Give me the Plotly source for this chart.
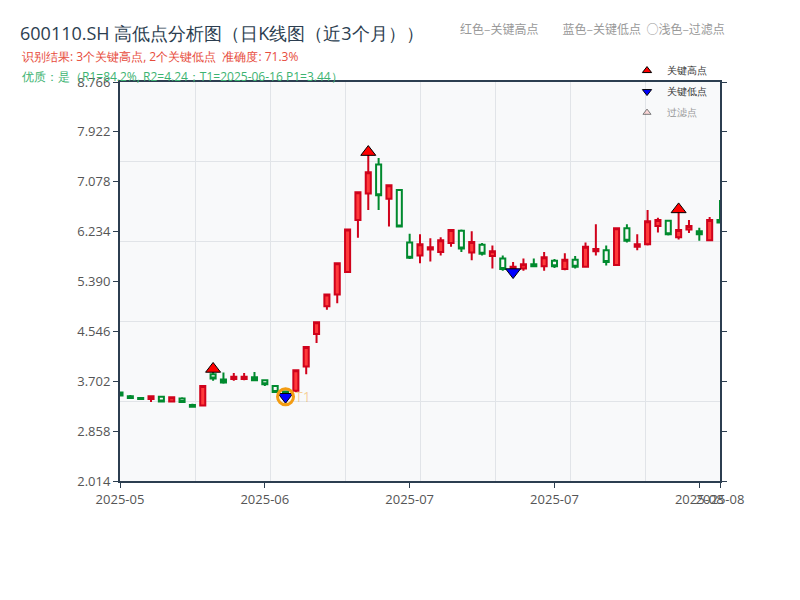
import plotly.graph_objects as go

# 近3个月日K数据
dates = [
    "2025-05-22", "2025-05-23", "2025-05-26", "2025-05-27", "2025-05-28", "2025-05-29", "2025-05-30",
    "2025-06-03", "2025-06-04", "2025-06-05", "2025-06-06", "2025-06-09", "2025-06-10", "2025-06-11",
    "2025-06-12", "2025-06-13", "2025-06-16", "2025-06-17", "2025-06-18", "2025-06-19", "2025-06-20",
    "2025-06-23", "2025-06-24", "2025-06-25", "2025-06-26", "2025-06-27", "2025-06-30", "2025-07-01",
    "2025-07-02", "2025-07-03", "2025-07-04", "2025-07-07", "2025-07-08", "2025-07-09", "2025-07-10",
    "2025-07-11", "2025-07-14", "2025-07-15", "2025-07-16", "2025-07-17", "2025-07-18", "2025-07-21",
    "2025-07-22", "2025-07-23", "2025-07-24", "2025-07-25", "2025-07-28", "2025-07-29", "2025-07-30",
    "2025-07-31", "2025-08-01", "2025-08-04", "2025-08-05", "2025-08-06", "2025-08-07", "2025-08-08",
    "2025-08-11", "2025-08-12", "2025-08-13",
]
open_ = [3.51, 3.45, 3.42, 3.40, 3.44, 3.36, 3.41, 3.30, 3.29, 3.82, 3.73, 3.74, 3.74, 3.77, 3.72,
         3.62, 3.53, 3.54, 3.95, 4.50, 4.97, 5.17, 5.55, 6.43, 6.88, 7.37, 6.79, 6.94, 6.05, 5.83,
         5.93, 5.89, 6.04, 6.25, 5.88, 6.01, 5.82, 5.78, 5.58, 5.61, 5.68, 5.65, 5.74, 5.60, 5.76,
         5.64, 5.90, 5.92, 5.67, 6.29, 5.98, 6.02, 6.33, 6.42, 6.14, 6.27, 6.24, 6.09, 6.43]
high = [3.52, 3.47, 3.43, 3.45, 3.45, 3.43, 3.43, 3.32, 3.62, 3.91, 3.85, 3.84, 3.84, 3.86, 3.73,
        3.64, 3.54, 3.89, 4.28, 4.70, 5.17, 5.70, 6.27, 6.90, 7.58, 7.48, 7.03, 6.94, 6.20, 6.19,
        6.12, 6.14, 6.28, 6.27, 6.24, 6.04, 6.00, 5.83, 5.72, 5.78, 5.78, 5.89, 5.77, 5.87, 5.82,
        6.05, 6.36, 6.00, 6.29, 6.36, 6.19, 6.60, 6.47, 6.43, 6.61, 6.43, 6.30, 6.48, 6.77]
low = [3.45, 3.40, 3.40, 3.35, 3.35, 3.35, 3.34, 3.26, 3.29, 3.71, 3.66, 3.71, 3.72, 3.70, 3.62,
       3.51, 3.44, 3.52, 3.82, 4.35, 4.91, 5.02, 5.55, 6.13, 6.60, 6.60, 6.32, 6.32, 5.77, 5.70,
       5.73, 5.83, 5.98, 5.89, 5.75, 5.83, 5.61, 5.57, 5.55, 5.57, 5.63, 5.57, 5.62, 5.58, 5.61,
       5.63, 5.83, 5.66, 5.66, 6.05, 5.92, 6.00, 6.22, 6.17, 6.10, 6.21, 6.08, 6.08, 6.38]
close = [3.46, 3.42, 3.40, 3.45, 3.36, 3.43, 3.35, 3.27, 3.62, 3.75, 3.68, 3.78, 3.78, 3.72, 3.65,
         3.52, 3.48, 3.89, 4.28, 4.70, 5.17, 5.70, 6.27, 6.90, 7.24, 6.85, 7.02, 6.32, 5.79, 6.02,
         5.97, 6.09, 6.26, 5.95, 6.06, 5.86, 5.90, 5.60, 5.64, 5.68, 5.65, 5.80, 5.65, 5.76, 5.64,
         5.98, 5.94, 5.72, 6.29, 6.08, 6.02, 6.41, 6.43, 6.19, 6.26, 6.33, 6.19, 6.43, 6.39]

# 关键高低点（K线序号, 价格）
key_high_idx = [9, 24, 54]
key_high_price = [3.91, 7.58, 6.61]
key_low_idx = [16, 38]
key_low_price = [3.44, 5.55]
t1_idx = 16
t1_price = 3.44

# 坐标轴刻度
tick_idx = [0, 14, 28, 42, 56, 58]
tick_text = ["2025-05", "2025-06", "2025-07", "2025-07", "2025-08", "2025-08"]
y_ticks = [2.014, 2.858, 3.702, 4.546, 5.390, 6.234, 7.078, 7.922, 8.766]
x_grid = [7.25, 14.5, 21.75, 29.0, 36.25, 43.5, 50.75]
y_grid = [3.364, 4.715, 6.065, 7.416]

x = list(range(len(dates)))

fig = go.Figure()

fig.add_trace(go.Candlestick(
    x=x, open=open_, high=high, low=low, close=close,
    text=dates,
    increasing=dict(line=dict(color="#d0021b", width=2), fillcolor="#ff3b3b"),
    decreasing=dict(line=dict(color="#008a2e", width=2), fillcolor="rgba(0,0,0,0)"),
    showlegend=False,
    name="K线",
))

# 图上的关键点
fig.add_trace(go.Scatter(
    x=key_high_idx, y=key_high_price, mode="markers", name="关键高点", legendgroup="h", showlegend=False,
    marker=dict(symbol="triangle-up", size=13, color="red", line=dict(color="black", width=1)),
))
fig.add_trace(go.Scatter(
    x=key_low_idx, y=key_low_price, mode="markers", name="关键低点", legendgroup="l", showlegend=False,
    marker=dict(symbol="triangle-down", size=13, color="blue", line=dict(color="black", width=1)),
))
fig.add_trace(go.Scatter(
    x=[t1_idx], y=[t1_price], mode="markers", showlegend=False,
    marker=dict(symbol="circle-open", size=16, color="#f39c12", line=dict(width=3)),
))

# 图例条目（小号符号）
fig.add_trace(go.Scatter(
    x=[None], y=[None], mode="markers", name="关键高点", legendgroup="h",
    marker=dict(symbol="triangle-up", size=8, color="red", line=dict(color="black", width=1)),
))
fig.add_trace(go.Scatter(
    x=[None], y=[None], mode="markers", name="关键低点", legendgroup="l",
    marker=dict(symbol="triangle-down", size=8, color="blue", line=dict(color="black", width=1)),
))
fig.add_trace(go.Scatter(
    x=[None], y=[None], mode="markers", name="过滤点", visible="legendonly", legendgroup="f",
    marker=dict(symbol="triangle-up", size=7, color="#ffb3b3", line=dict(color="black", width=1)),
))

fig.add_annotation(x=t1_idx, y=t1_price, text="T1", showarrow=False, xanchor="left", xshift=7,
                   font=dict(size=14, color="rgba(243,156,18,0.45)"))

fig.add_annotation(xref="paper", yref="paper", x=-0.1667, y=1.0627, xanchor="left", yanchor="middle",
                   text="识别结果: 3个关键高点, 2个关键低点  准确度: 71.3%", showarrow=False,
                   font=dict(size=12, color="#e74c3c"))
fig.add_annotation(xref="paper", yref="paper", x=-0.1667, y=1.015, xanchor="left", yanchor="middle",
                   text="优质：是（R1=84.2%, R2=4.24；T1=2025-06-16 P1=3.44）", showarrow=False,
                   font=dict(size=12, color="#3cb371"))
fig.add_annotation(xref="paper", yref="paper", x=1.012, y=1.135, xanchor="right", yanchor="middle",
                   text="红色–关键高点         蓝色–关键低点  ○浅色–过滤点", showarrow=False,
                   font=dict(size=12, color="#999999", family="Noto Sans CJK SC"))

fig.update_layout(
    width=800, height=600,
    title=dict(text="600110.SH 高低点分析图（日K线图（近3个月））", x=0.015, xanchor="left",
               y=0.958, yanchor="middle", font=dict(size=18, color="#2c3e50")),
    margin=dict(l=112, r=88, t=74, b=127),
    plot_bgcolor="#f8f9fa", paper_bgcolor="white",
    legend=dict(x=0.845, y=1.065, xanchor="left", yanchor="top", bgcolor="rgba(0,0,0,0)",
                tracegroupgap=2, font=dict(size=10, color="#333")),
)
fig.update_xaxes(
    range=[0, 58], tickmode="array", tickvals=tick_idx, ticktext=tick_text, tickangle=0,
    showgrid=False, showline=True, linecolor="#2c3e50", linewidth=2, mirror=True,
    ticks="outside", ticklen=5, tickcolor="#2c3e50", tickfont=dict(size=13, color="#555"),
    rangeslider=dict(visible=False), zeroline=False,
    minor=dict(tickmode="array", tickvals=x_grid, showgrid=True, gridcolor="#e1e4e8", ticks=""),
)
fig.update_yaxes(
    range=[2.014, 8.766], tickmode="array", tickvals=y_ticks, ticktext=[f"{v:.3f}" for v in y_ticks],
    showgrid=False, showline=True, linecolor="#2c3e50", linewidth=2, mirror="ticks",
    ticks="outside", ticklen=5, tickcolor="#2c3e50", tickfont=dict(size=13, color="#555"),
    zeroline=False,
    minor=dict(tickmode="array", tickvals=y_grid, showgrid=True, gridcolor="#e1e4e8", ticks=""),
)

fig.write_html("out.html")
